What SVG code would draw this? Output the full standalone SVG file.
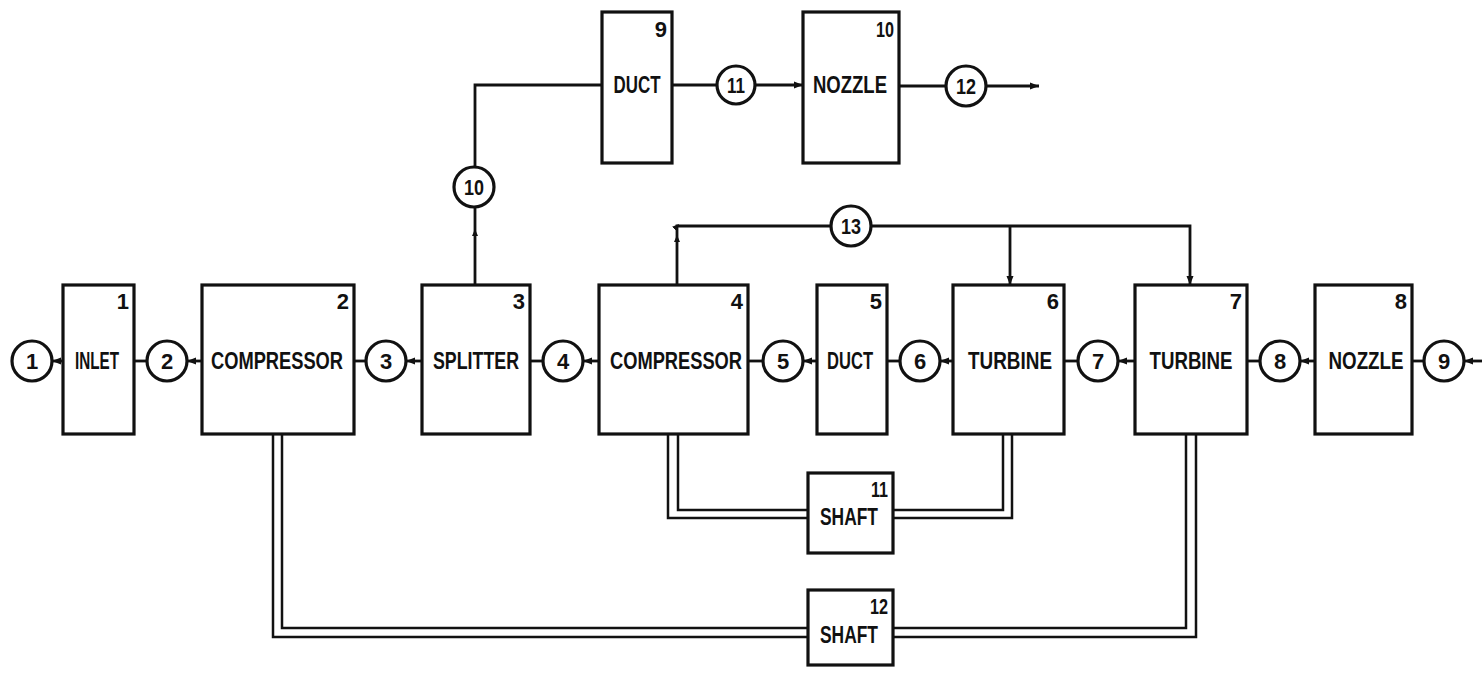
<svg xmlns="http://www.w3.org/2000/svg" width="1482" height="677" viewBox="0 0 1482 677">
<style>
.box{fill:#fff;stroke:#111;stroke-width:3.2}
.st{fill:#fff;stroke:#111;stroke-width:3.2}
.ln{fill:none;stroke:#111;stroke-width:2.8}
.sh{fill:none;stroke:#111;stroke-width:2.5}
.lbl{font-family:"Liberation Sans",Arial,sans-serif;font-weight:bold;font-size:23px;fill:#111;text-anchor:middle}
.num{font-family:"Liberation Sans",Arial,sans-serif;font-weight:bold;font-size:22px;fill:#111;text-anchor:end}
.cn{font-family:"Liberation Sans",Arial,sans-serif;font-weight:bold;font-size:22px;fill:#111;text-anchor:middle}
</style>
<defs>
<marker id="ah" markerUnits="userSpaceOnUse" markerWidth="10" markerHeight="8" refX="9" refY="4" orient="auto"><path d="M0,0.5 L9,4 L0,7.5 Z" fill="#111"/></marker>
<marker id="am" markerUnits="userSpaceOnUse" markerWidth="8" markerHeight="8" refX="4" refY="4" orient="auto"><path d="M0,1 L7,4 L0,7 Z" fill="#111"/></marker>
</defs>

<g id="connectors">
<path class="ln" d="M63 361 H52" marker-end="url(#ah)"/>
<path class="ln" d="M134 361 H147"/>
<path class="ln" d="M202 361 H187" marker-end="url(#ah)"/>
<path class="ln" d="M354 361 H366"/>
<path class="ln" d="M422 361 H406" marker-end="url(#ah)"/>
<path class="ln" d="M530 361 H543"/>
<path class="ln" d="M599 361 H583" marker-end="url(#ah)"/>
<path class="ln" d="M748 361 H763"/>
<path class="ln" d="M817 361 H803" marker-end="url(#ah)"/>
<path class="ln" d="M887 361 H900"/>
<path class="ln" d="M953 361 H940" marker-end="url(#ah)"/>
<path class="ln" d="M1064 361 H1078"/>
<path class="ln" d="M1135 361 H1118" marker-end="url(#ah)"/>
<path class="ln" d="M1247 361 H1260"/>
<path class="ln" d="M1315 361 H1300" marker-end="url(#ah)"/>
<path class="ln" d="M1412 361 H1424"/>
<path class="ln" d="M1482 361 H1464" marker-end="url(#ah)"/>

<path class="ln" d="M475 285 L475 232 L475 207" marker-mid="url(#am)"/>
<path class="ln" d="M475 167 V85 H602"/>
<path class="ln" d="M672 85 H717"/>
<path class="ln" d="M755 85 H803" marker-end="url(#ah)"/>
<path class="ln" d="M899 86 H946"/>
<path class="ln" d="M987 86 H1039" marker-end="url(#ah)"/>

<path class="ln" d="M677 285 L677 238 L677 226 H831" marker-mid="url(#am)"/>
<path class="ln" d="M871 226 H1190 V285" marker-end="url(#ah)"/>
<path class="ln" d="M1010 226 V285" marker-end="url(#ah)"/>

<path class="sh" d="M273 434 V637 H808"/>
<path class="sh" d="M282 434 V628 H808"/>
<path class="sh" d="M668 434 V518 H808"/>
<path class="sh" d="M678 434 V510 H808"/>
<path class="sh" d="M893 510 H1003 V434"/>
<path class="sh" d="M893 518 H1012 V434"/>
<path class="sh" d="M893 628 H1186 V434"/>
<path class="sh" d="M893 637 H1196 V434"/>
</g>

<g id="st1"><circle class="st" cx="32" cy="361" r="20"/><text class="cn" x="32" y="369">1</text></g>
<g id="st2"><circle class="st" cx="167" cy="361" r="20"/><text class="cn" x="167" y="369">2</text></g>
<g id="st3"><circle class="st" cx="386" cy="361" r="20"/><text class="cn" x="386" y="369">3</text></g>
<g id="st4"><circle class="st" cx="563" cy="361" r="20"/><text class="cn" x="563" y="369">4</text></g>
<g id="st5"><circle class="st" cx="783" cy="361" r="20"/><text class="cn" x="783" y="369">5</text></g>
<g id="st6"><circle class="st" cx="920" cy="361" r="20"/><text class="cn" x="920" y="369">6</text></g>
<g id="st7"><circle class="st" cx="1098" cy="361" r="20"/><text class="cn" x="1098" y="369">7</text></g>
<g id="st8"><circle class="st" cx="1280" cy="361" r="20"/><text class="cn" x="1280" y="369">8</text></g>
<g id="st9"><circle class="st" cx="1444" cy="361" r="20"/><text class="cn" x="1444" y="369">9</text></g>
<g id="st10"><circle class="st" cx="474" cy="187" r="20"/><text class="cn" x="474" y="195" textLength="20" lengthAdjust="spacingAndGlyphs">10</text></g>
<g id="st11"><circle class="st" cx="736" cy="85" r="19"/><text class="cn" x="736" y="93" textLength="18" lengthAdjust="spacingAndGlyphs">11</text></g>
<g id="st12"><circle class="st" cx="966" cy="86" r="20"/><text class="cn" x="966" y="94" textLength="20" lengthAdjust="spacingAndGlyphs">12</text></g>
<g id="st13"><circle class="st" cx="851" cy="226" r="20"/><text class="cn" x="851" y="234" textLength="20" lengthAdjust="spacingAndGlyphs">13</text></g>

<g id="n1"><rect class="box" x="63" y="285" width="71" height="149"/><text class="num" x="129" y="309">1</text><text class="lbl" x="97" y="369" textLength="44" lengthAdjust="spacingAndGlyphs">INLET</text></g>
<g id="n2"><rect class="box" x="202" y="285" width="152" height="149"/><text class="num" x="349" y="309">2</text><text class="lbl" x="277" y="369" textLength="132" lengthAdjust="spacingAndGlyphs">COMPRESSOR</text></g>
<g id="n3"><rect class="box" x="422" y="285" width="108" height="149"/><text class="num" x="525" y="309">3</text><text class="lbl" x="476" y="369" textLength="86" lengthAdjust="spacingAndGlyphs">SPLITTER</text></g>
<g id="n4"><rect class="box" x="599" y="285" width="149" height="149"/><text class="num" x="743" y="309">4</text><text class="lbl" x="676" y="369" textLength="132" lengthAdjust="spacingAndGlyphs">COMPRESSOR</text></g>
<g id="n5"><rect class="box" x="817" y="285" width="70" height="149"/><text class="num" x="882" y="309">5</text><text class="lbl" x="850" y="369" textLength="46" lengthAdjust="spacingAndGlyphs">DUCT</text></g>
<g id="n6"><rect class="box" x="953" y="285" width="111" height="149"/><text class="num" x="1059" y="309">6</text><text class="lbl" x="1010" y="369" textLength="84" lengthAdjust="spacingAndGlyphs">TURBINE</text></g>
<g id="n7"><rect class="box" x="1135" y="285" width="112" height="149"/><text class="num" x="1242" y="309">7</text><text class="lbl" x="1191" y="369" textLength="83" lengthAdjust="spacingAndGlyphs">TURBINE</text></g>
<g id="n8"><rect class="box" x="1315" y="285" width="97" height="149"/><text class="num" x="1407" y="309">8</text><text class="lbl" x="1366" y="369" textLength="75" lengthAdjust="spacingAndGlyphs">NOZZLE</text></g>
<g id="n9"><rect class="box" x="602" y="12" width="70" height="151"/><text class="num" x="667" y="37">9</text><text class="lbl" x="637" y="93" textLength="47" lengthAdjust="spacingAndGlyphs">DUCT</text></g>
<g id="n10"><rect class="box" x="803" y="12" width="96" height="151"/><text class="num" x="894" y="37" textLength="18" lengthAdjust="spacingAndGlyphs">10</text><text class="lbl" x="850" y="93" textLength="74" lengthAdjust="spacingAndGlyphs">NOZZLE</text></g>
<g id="n11"><rect class="box" x="808" y="473" width="85" height="80"/><text class="num" x="888" y="497" textLength="17" lengthAdjust="spacingAndGlyphs">11</text><text class="lbl" x="849" y="525" textLength="58" lengthAdjust="spacingAndGlyphs">SHAFT</text></g>
<g id="n12"><rect class="box" x="808" y="590" width="85" height="75"/><text class="num" x="888" y="614" textLength="18" lengthAdjust="spacingAndGlyphs">12</text><text class="lbl" x="849" y="643" textLength="58" lengthAdjust="spacingAndGlyphs">SHAFT</text></g>
</svg>
